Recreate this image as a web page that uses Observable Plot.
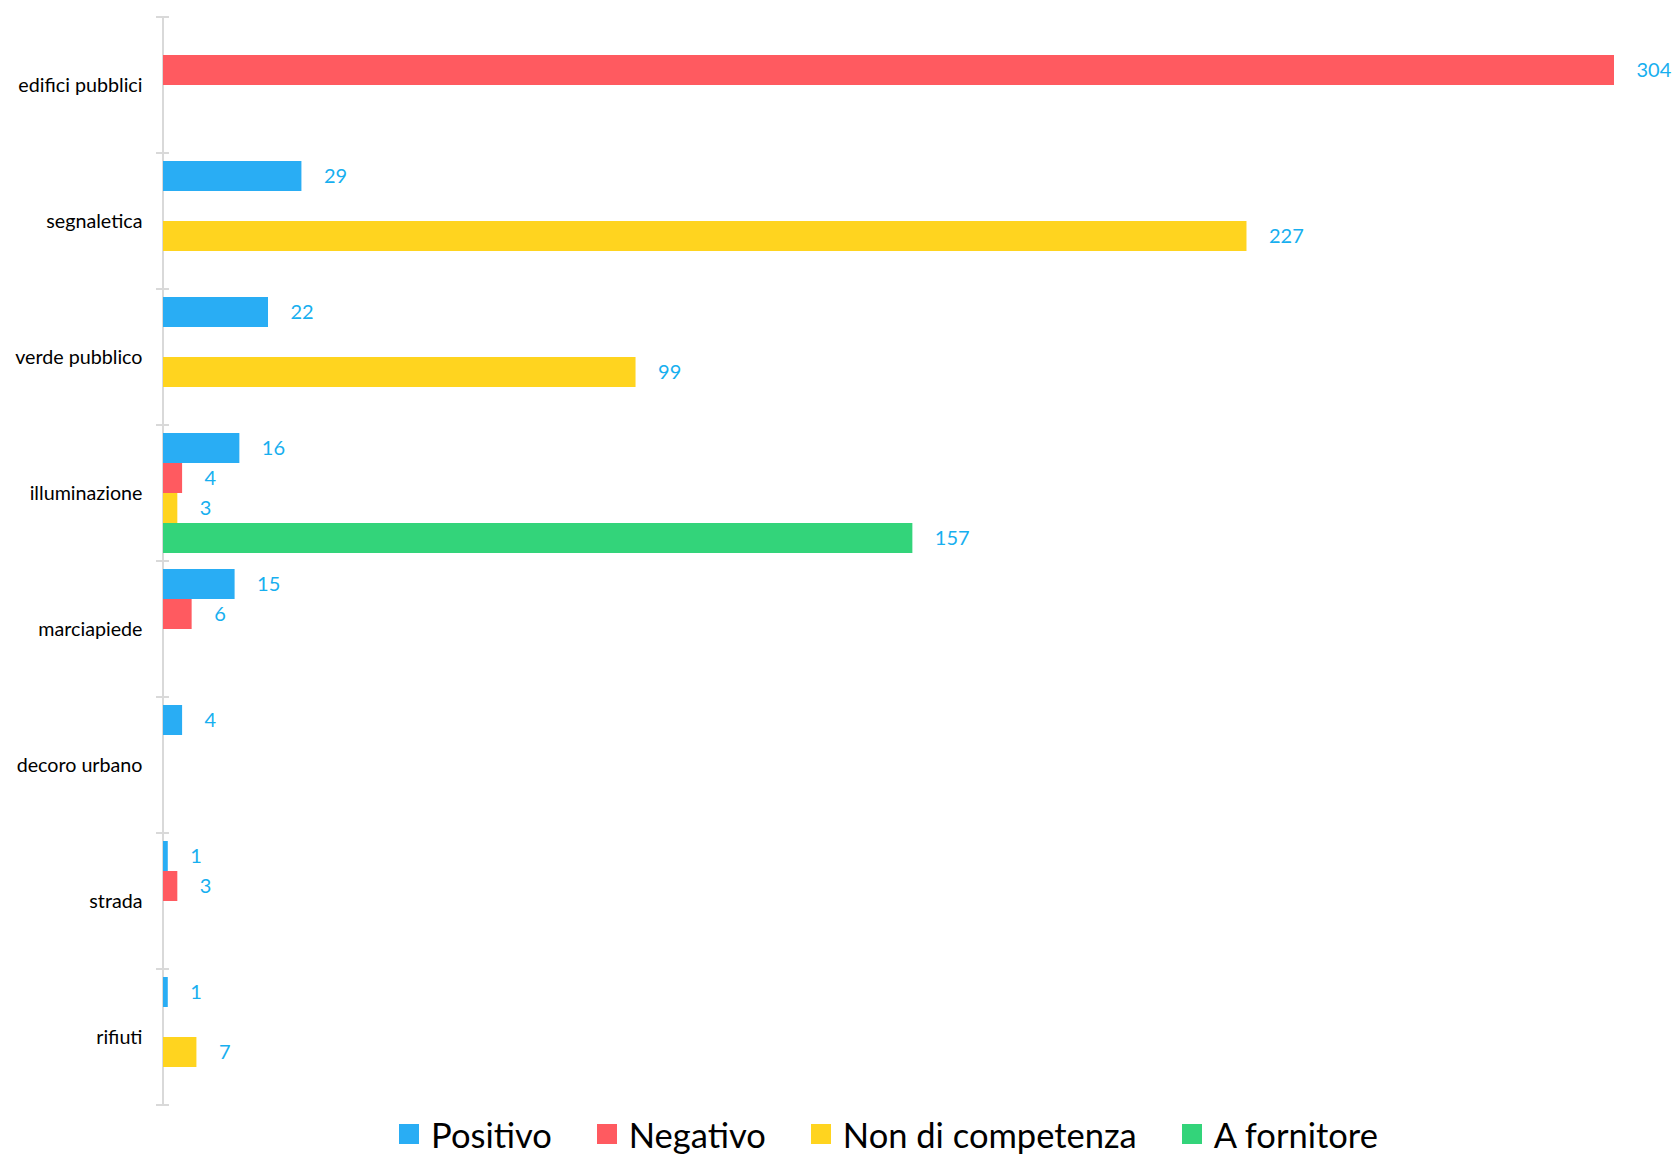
<!DOCTYPE html>
<html>
<head>
<meta charset="utf-8">
<script src="https://cdn.jsdelivr.net/npm/d3@7"></script>
<script src="https://cdn.jsdelivr.net/npm/@observablehq/plot@0.6"></script>
<style>
  html, body { margin: 0; padding: 0; background: #fff; }
  #legend { display: flex; justify-content: center; padding-left: 98px; box-sizing: border-box; width: 1679px; height: 44px; align-items: center; }
  #legend .lg-swatches { margin-bottom: 0 !important; min-height: 0 !important; }
  #legend .lg-swatch { margin-right: 45px !important; }
  #legend .lg-swatch:last-child { margin-right: 0 !important; }
  #legend .lg-swatch > svg { margin-right: 12px !important; }
</style>
</head>
<body>
<div id="chart"></div>
<div id="legend"></div>
<script>
const categories = ["edifici pubblici", "segnaletica", "verde pubblico", "illuminazione", "marciapiede", "decoro urbano", "strada", "rifiuti"];
const series = ["Positivo", "Negativo", "Non di competenza", "A fornitore"];
const positivo        = [0, 29, 22, 16, 15, 4, 1, 1];
const negativo        = [304, 0, 0, 4, 6, 0, 3, 0];
const nonDiCompetenza = [0, 227, 99, 3, 0, 0, 0, 7];
const aFornitore      = [0, 0, 0, 157, 0, 0, 0, 0];
const colors = ["#29ADF4", "#FF5A60", "#FFD41F", "#33D47A"];
const labelColor = "#17AFEF";

const seriesValues = [positivo, negativo, nonDiCompetenza, aFornitore];
const data = [];
categories.forEach((c, i) => {
  series.forEach((s, j) => {
    const v = seriesValues[j][i];
    if (v > 0) data.push({category: c, series: s, value: v});
  });
});

const W = 1679, H = 1112;
const chart = Plot.plot({
  width: W,
  height: H,
  marginLeft: 163,
  marginRight: 65,
  marginTop: 15,
  marginBottom: 6,
  style: {fontFamily: "Lato, sans-serif", fontSize: "19.7px", color: "#000", background: "#fff"},
  x: {domain: [0, 304], axis: null},
  y: {domain: series, axis: null, padding: 0},
  fy: {domain: categories, paddingInner: 0.106, paddingOuter: 0.053, axis: "left", tickSize: 0, tickPadding: 21, label: null},
  color: {domain: series, range: colors},
  marks: [
    Plot.barX(data, {x: "value", y: "series", fy: "category", fill: "series"}),
    Plot.text(data, {x: "value", y: "series", fy: "category", text: d => String(d.value), textAnchor: "start", dx: 22, fill: labelColor, fontSize: 20})
  ]
});
document.getElementById("chart").appendChild(chart);

// Category-boundary ticks and the vertical axis line, from Plot's own scales
const fy = chart.scale("fy");
const xs = chart.scale("x");
const x0 = xs.apply(0);
const step = fy.step != null ? fy.step : (fy.range[1] - fy.range[0]) / categories.length;
const bw = fy.bandwidth;
const bounds = categories.map(c => fy.apply(c) - (step - bw) / 2);
bounds.push(bounds[bounds.length - 1] + step);
const g = d3.select(chart).insert("g", ":first-child").attr("stroke", "#D9D9D9").attr("stroke-width", 2);
g.append("line").attr("x1", x0).attr("x2", x0).attr("y1", bounds[0]).attr("y2", bounds[bounds.length - 1]);
g.selectAll("line.tick").data(bounds).join("line").attr("class", "tick")
  .attr("x1", x0 - 7).attr("x2", x0 + 6).attr("y1", d => d).attr("y2", d => d);

const legend = Plot.legend({
  color: {domain: series, range: colors},
  legend: "swatches",
  swatchSize: 20,
  className: "lg",
  style: {fontFamily: "Lato, sans-serif", fontSize: "34.5px", color: "#000"}
});
document.getElementById("legend").appendChild(legend);
</script>
</body>
</html>
